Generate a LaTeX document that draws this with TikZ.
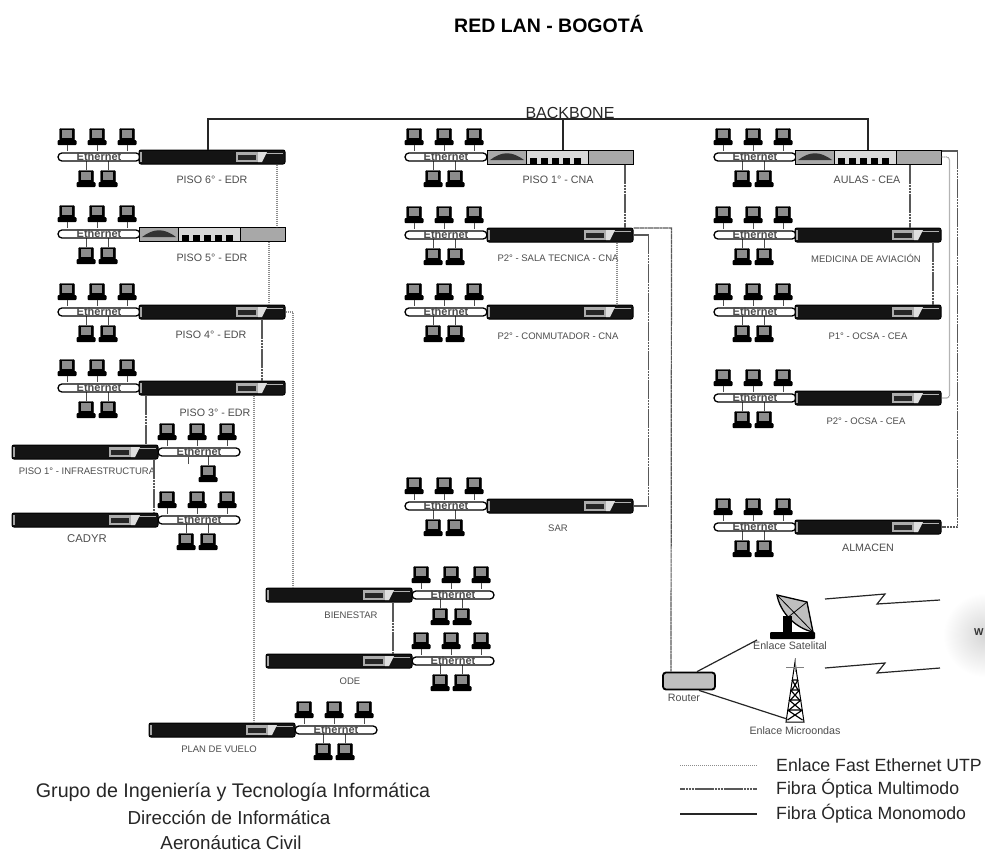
\documentclass[tikz,border=0pt]{standalone}
\usepackage{fontspec}
\setmainfont{Liberation Sans}
\usetikzlibrary{calc}
\definecolor{grisclaro}{gray}{0.66}
\definecolor{gristenue}{gray}{0.55}
\tikzset{
  mono/.style={line width=1.1pt, black!85},
  multi/.style={line width=1.2pt, black!65, dash pattern=on 2.5pt off 0.4pt},
  utp/.style={line width=1.1pt, gristenue, dash pattern=on 1.2pt off 0.8pt},
  radio/.style={line width=1.2pt, black!85},
  lanline/.style={line width=0.9pt, black!70},
  rotulo/.style={font=\fontsize{10.7}{12}\selectfont, text=black!70, inner sep=0pt},
  rotulochico/.style={rotulo, font=\fontsize{9.5}{11}\selectfont},
  leyenda/.style={font=\fontsize{17.7}{19}\selectfont, text=black!85, inner sep=0pt, anchor=west},
  pie/.style={font=\fontsize{19.7}{21}\selectfont, text=black!85, inner sep=0pt},
  piechico/.style={pie, font=\fontsize{18.8}{21}\selectfont},
  monitor/.style={draw=black, fill=black, minimum width=15pt, minimum height=13pt, inner sep=0pt, rounded corners=1pt},
  busnode/.style={draw=black, line width=1.3pt, fill=white, rounded corners=4pt, minimum width=82pt, minimum height=8pt, inner sep=0pt,
    font=\fontsize{11}{11}\bfseries\selectfont, text=black!70},
  swosc/.style={draw=black, line width=1pt, fill=black!92, rounded corners=2pt, minimum width=146pt, minimum height=14pt, inner sep=0pt},
  swcla/.style={draw=black, line width=1pt, fill=grisclaro, minimum width=146pt, minimum height=14pt, inner sep=0pt}
}
% Computador con su teclado
\newcommand{\equipo}[3]{%
  \node[monitor] (#1) at (#2,#3) {};
  \fill[gristenue] ($(#1.center)+(-5pt,5pt)$) rectangle ($(#1.center)+(5pt,-3pt)$);
  \fill[black, rounded corners=1pt] ($(#1.south)+(-9.5pt,1.5pt)$) rectangle ($(#1.south)+(9.5pt,-3.5pt)$);
}
% Grupo de red: nombre, x del extremo, y, abajo
\newcommand{\grupo}[4]{%
  \foreach \n/\dx in {a/9,b/39,c/69}{
    \equipo{#1\n}{#2+\dx}{#3-22}
    \draw[lanline] ($(#1\n.south)+(0,-3pt)$) -- ++(0,-6pt);
  }
  \foreach \dx [count=\i] in {#4}{
    \equipo{#1d\i}{#2+\dx}{#3+20}
    \draw[lanline] (#1d\i.north) -- ++(0,9pt);
  }
  \node[busnode] (#1bus) at (#2+41,#3) {Ethernet};
}
% Conmutador oscuro y conmutador claro
\newcommand{\swoscuro}[3]{%
  \node[swosc] (#1) at (#2,#3) {};
  \begin{scope}[shift={(#2,#3)}]
    \fill[gray!70] (-72,-5) rectangle (-70,5);
    \fill[gray!65] (24,-5) rectangle (46,5);
    \fill[black!85] (26,-2.5) rectangle (44,2.5);
    \fill[gray!25] (46,-5) -- (55,-5) -- (50,5) -- (46,5) -- cycle;
    \draw[gray!60, line width=1pt] (54,-3.5) -- (71,-3.5);
  \end{scope}
}
\newcommand{\swclaro}[3]{%
  \node[swcla] (#1) at (#2,#3) {};
  \begin{scope}[shift={(#2,#3)}]
    \fill[black!80] (-70,3) .. controls (-58,-6) and (-48,-6) .. (-36,3) -- cycle;
    \draw[black, line width=1pt, fill=gray!30] (-34,-7) rectangle (28,7);
    \foreach \px in {-30,-19,-8,3,14}{
      \fill[black] (\px,1) rectangle (\px+7,6.5);
    }
  \end{scope}
}
\begin{document}
\begin{tikzpicture}[x=1pt,y=-1pt]
  \useasboundingbox (0,0) rectangle (985,857);
  \node[font=\fontsize{19.5}{21}\bfseries\selectfont, inner sep=0pt] (titulo) at (549,24) {RED LAN - BOGOTÁ};

  % Nube
  \shade[inner color=gray!32, outer color=white] (985,635) circle (42);
  \node[font=\fontsize{10}{10}\bfseries\selectfont, text=black!80, inner sep=0pt, anchor=west] (nube) at (974,632) {W};

  % Columna izquierda
  \grupo{seis}{58}{157}{28,50}
  \swoscuro{pseis}{212}{157}
  \node[rotulo] (rseis) at (212,180) {PISO 6° - EDR};
  \grupo{cinco}{58}{234}{28,50}
  \swclaro{pcinco}{212}{234}
  \node[rotulo] (rcinco) at (212,258) {PISO 5° - EDR};
  \grupo{cuatro}{58}{312}{28,50}
  \swoscuro{pcuatro}{212}{312}
  \node[rotulo] (rcuatro) at (211,335) {PISO 4° - EDR};
  \grupo{tres}{58}{388}{28,50}
  \swoscuro{ptres}{212}{388}
  \node[rotulo] (rtres) at (215,413) {PISO 3° - EDR};
  \grupo{infra}{158}{452}{50}
  \swoscuro{pinfra}{85}{452}
  \node[rotulochico] (rinfra) at (87,471) {PISO 1° - INFRAESTRUCTURA};
  \coordinate (stub) at (188,464);
  \draw[lanline] (stub) -- (stub |- infrabus.south);
  \grupo{cadyr}{158}{520}{28,50}
  \swoscuro{pcadyr}{85}{520}
  \node[rotulo, font=\fontsize{11.3}{12}\selectfont] (rcadyr) at (87,539) {CADYR};

  % Grupos de abajo
  \grupo{bien}{412}{595}{28,50}
  \swoscuro{pbien}{339}{595}
  \node[rotulochico] (rbien) at (351,615) {BIENESTAR};
  \grupo{ode}{412}{661}{28,50}
  \swoscuro{pode}{339}{661}
  \node[rotulochico] (rode) at (350,681) {ODE};
  \grupo{plan}{295}{730}{28,50}
  \swoscuro{pplan}{222}{730}
  \node[rotulochico] (rplan) at (219,749) {PLAN DE VUELO};

  % Columna central
  \grupo{cna}{405}{157}{28,50}
  \swclaro{pcna}{560}{157}
  \node[rotulo] (rcna) at (558,180) {PISO 1° - CNA};
  \grupo{sala}{405}{235}{28,50}
  \swoscuro{psala}{560}{235}
  \node[rotulochico] (rsala) at (558,258) {P2° - SALA TECNICA - CNA};
  \grupo{comu}{405}{312}{28,50}
  \swoscuro{pcomu}{560}{312}
  \node[rotulochico] (rcomu) at (558,336) {P2° - CONMUTADOR - CNA};
  \grupo{sar}{405}{506}{28,50}
  \swoscuro{psar}{560}{506}
  \node[rotulochico] (rsar) at (558,528) {SAR};

  % Columna derecha
  \grupo{aulas}{714}{157}{28,50}
  \swclaro{paulas}{868}{157}
  \node[rotulo] (raulas) at (867,180) {AULAS - CEA};
  \grupo{medi}{714}{235}{28,50}
  \swoscuro{pmedi}{868}{235}
  \node[rotulochico] (rmedi) at (866,258) {MEDICINA DE AVIACIÓN};
  \grupo{ocuno}{714}{312}{28,50}
  \swoscuro{pocuno}{868}{312}
  \node[rotulochico] (rocuno) at (868,336) {P1° - OCSA - CEA};
  \grupo{ocdos}{714}{398}{28,50}
  \swoscuro{pocdos}{868}{398}
  \node[rotulochico] (rocdos) at (866,421) {P2° - OCSA - CEA};
  \grupo{alma}{714}{527}{28,50}
  \swoscuro{palma}{868}{527}
  \node[rotulo] (ralma) at (868,548) {ALMACEN};

  % Backbone
  \node[font=\fontsize{16}{17}\selectfont, text=black!85, inner sep=0pt, anchor=south] (backbone) at (570,119) {BACKBONE};
  \draw[mono] ([xshift=-4pt]pseis.north) |- (backbone.south -| paulas.north) -- (paulas.north);
  \draw[mono, line width=1.4pt] ([xshift=3pt]pcna.north) -- ++(0,31pt);

  % Enlaces entre pisos
  \draw[utp] ([xshift=65pt]pseis.south) -- ([xshift=65pt]pcinco.north);
  \draw[utp] ([xshift=57pt]pcinco.south) -- ([xshift=57pt]pcuatro.north);
  \draw[multi] ([xshift=50pt]pcuatro.south) -- ([xshift=50pt]ptres.north);
  \draw[utp] ([xshift=42pt]ptres.south) -- ([xshift=32pt]pplan.north);
  \draw[utp] (pcuatro.east) -| ([xshift=-46pt]pbien.north);
  \draw[multi] ([xshift=-66pt]ptres.south) -- ([xshift=-66pt]ptres.south |- pinfra.north);
  \draw[multi] ([xshift=69pt]pinfra.south) -- ([xshift=69pt]pcadyr.north);
  \draw[multi] ([xshift=54pt]pbien.south) -- ([xshift=54pt]pode.north);

  \draw[multi] ([xshift=65pt]pcna.south) -- ([xshift=65pt]psala.north);
  \draw[utp] ([xshift=57pt]psala.south) -- ([xshift=57pt]pcomu.north);
  \draw[multi] (psala.east) -- ++(15pt,0) |- (psar.east);

  \draw[multi] ([xshift=42pt]paulas.south) -- ([xshift=42pt]pmedi.north);
  \draw[multi] ([xshift=65pt]pmedi.south) -- ([xshift=65pt]pocuno.north);
  \draw[multi] ([yshift=6pt]paulas.east) -- ++(16pt,0) |- (palma.east);
  \draw[utp, rounded corners=3pt] (paulas.east) -- ++(8pt,0) |- (pocdos.east);

  % Router y enlaces
  \node[draw=black, line width=1.8pt, fill=gray!50, rounded corners=3pt, minimum width=52pt, minimum height=17pt, inner sep=0pt] (router) at (689,681) {};
  \node[rotulo] (rrouter) at (684,698) {Router};
  \draw[multi] ([yshift=7pt]psala.east) -- ++(38pt,0) -- ([xshift=-18pt]router.north);

  % Antena satelital
  \draw[black, line width=1.3pt, fill=gray!50] (777,595) -- (807,602) -- (813,632) .. controls (795,628) and (780,612) .. cycle;
  \draw[black, line width=0.8pt] (777,595) -- (813,632) (807,602) -- (787,618);
  \fill[black] (783,616) rectangle (792,633);
  \fill[black, rounded corners=1pt] (770,632) rectangle (815,639);
  \node[rotulo] (rsat) at (790,646) {Enlace Satelital};
  \coordinate (plato) at (757,640);
  \draw[radio] ([xshift=8pt]router.north) -- (plato);
  \coordinate (salat) at (825,599);
  \draw[radio] (salat) -- (885,594) -- (877,604) -- (940,600);

  % Torre de microondas
  \draw[black, line width=1pt] (795,662) -- (786,722) -- (804,722) -- cycle;
  \foreach \ty/\tx in {680/3,690/4.5,700/6,710/7.5}{
    \draw[black, line width=1.2pt] (795-\tx,\ty) -- (795+\tx,\ty) (795-\tx,\ty) -- (795+\tx,\ty+10) (795+\tx,\ty) -- (795-\tx,\ty+10);
  }
  \draw[gray, line width=1pt] (786,667) -- (804,667) (795,658) -- (795,672);
  \node[rotulo] (rmic) at (795,731) {Enlace Microondas};
  \coordinate (torre) at (787,719);
  \draw[radio] ([xshift=10pt]router.south) -- (torre);
  \coordinate (salam) at (825,668);
  \draw[radio] (salam) -- (885,663) -- (877,673) -- (940,668);

  % Leyenda
  \node[leyenda] (leyuno) at (776,765) {Enlace Fast Ethernet UTP};
  \node[leyenda] (leydos) at (776,789) {Fibra Óptica Multimodo};
  \node[leyenda] (leytres) at (776,814) {Fibra Óptica Monomodo};
  \coordinate (lu) at (680,765);
  \coordinate (ld) at (680,789);
  \coordinate (lt) at (680,814);
  \draw[utp, line width=0.8pt] (lu) -- ([xshift=-19pt]leyuno.west);
  \draw[multi] (ld) -- ([xshift=-19pt]leydos.west);
  \draw[mono] (lt) -- ([xshift=-19pt]leytres.west);

  % Pie
  \node[pie] (pieuno) at (233,792) {Grupo de Ingeniería y Tecnología Informática};
  \node[piechico] (piedos) at (229,818) {Dirección de Informática};
  \node[piechico] (pietres) at (231,843) {Aeronáutica Civil};
\end{tikzpicture}
\end{document}
